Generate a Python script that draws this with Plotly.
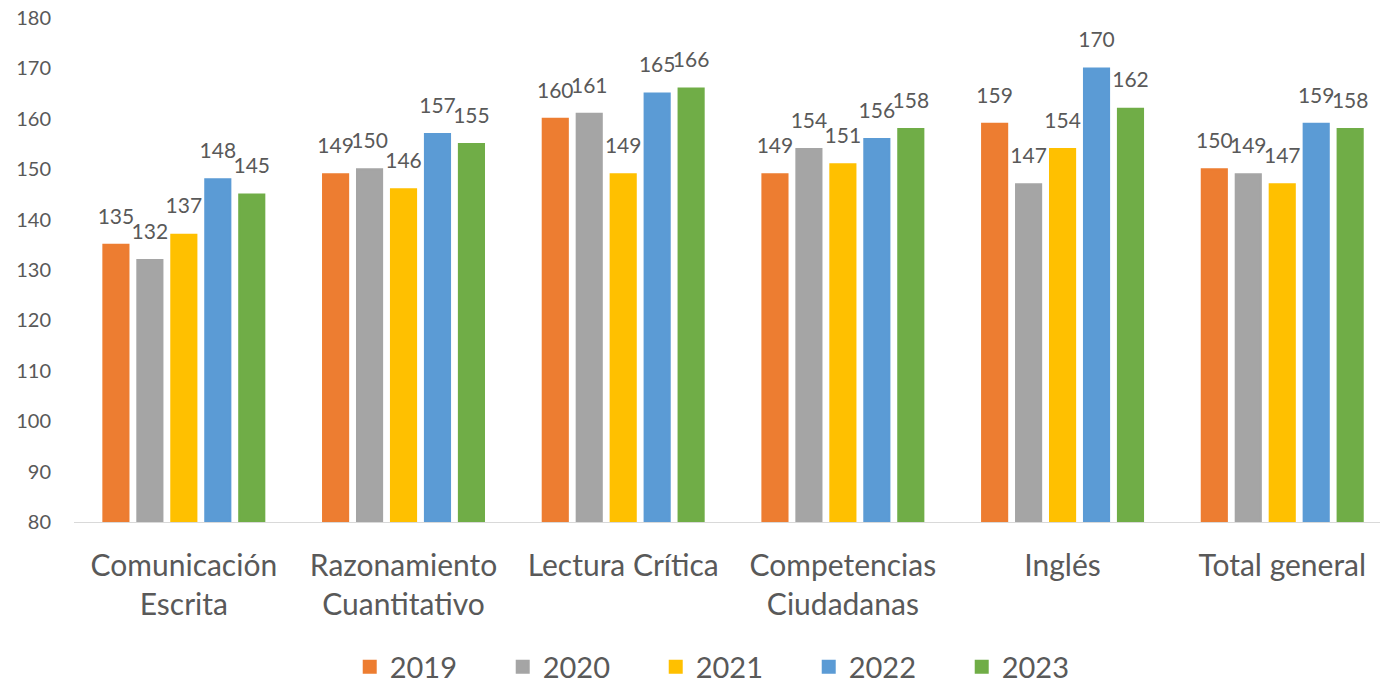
import plotly.graph_objects as go

categories = ["Comunicación<br>Escrita", "Razonamiento<br>Cuantitativo", "Lectura Crítica",
              "Competencias<br>Ciudadanas", "Inglés", "Total general"]
years = ["2019", "2020", "2021", "2022", "2023"]
v2019 = [135, 149, 160, 149, 159, 150]
v2020 = [132, 150, 161, 154, 147, 149]
v2021 = [137, 146, 149, 151, 154, 147]
v2022 = [148, 157, 165, 156, 170, 159]
v2023 = [145, 155, 166, 158, 162, 158]
series = [v2019, v2020, v2021, v2022, v2023]
colors = ["#ED7D31", "#A5A5A5", "#FFC000", "#5B9BD5", "#70AD47"]

FONT = "Lato"
TXT = "#595959"

fig = go.Figure()
for name, vals, col in zip(years, series, colors):
    fig.add_trace(go.Bar(
        x=categories, y=vals, name=name, marker_color=col,
        marker_line=dict(color=col, width=2), offsetgroup=name,
    ))
for name, vals in zip(years, series):
    fig.add_trace(go.Scatter(
        x=categories, y=vals, mode="markers+text", text=vals,
        textposition="top center", offsetgroup=name, showlegend=False,
        marker=dict(size=24, opacity=0), cliponaxis=False, hoverinfo="skip",
        textfont=dict(family=FONT, size=21, color=TXT),
    ))

fig.update_layout(
    barmode="group", bargap=0.227, bargroupgap=0.26,
    scattermode="group", scattergap=0.227,
    width=1380, height=685,
    margin=dict(l=74, r=0, t=18, b=163, autoexpand=False),
    paper_bgcolor="white", plot_bgcolor="white",
    font=dict(family=FONT, color=TXT),
    legend=dict(orientation="h", x=0.504, xanchor="center", y=-0.2877, yanchor="middle",
                font=dict(family=FONT, size=29, color=TXT), entrywidth=108,
                itemwidth=30),
    xaxis=dict(range=[-0.5, 5.445], showline=True, linecolor="#D9D9D9", linewidth=1,
               ticks="", tickfont=dict(family=FONT, size=30, color=TXT),
               ticklabelstandoff=17, automargin=False),
    yaxis=dict(range=[80, 180], dtick=10, showgrid=False, zeroline=False, ticks="",
               tickfont=dict(family=FONT, size=20, color=TXT), ticklabelstandoff=22,
               automargin=False, ticklabeloverflow="allow"),
)

fig.write_html("out.html", config={"displayModeBar": False},
               post_script="document.body.style.margin='0px';")
